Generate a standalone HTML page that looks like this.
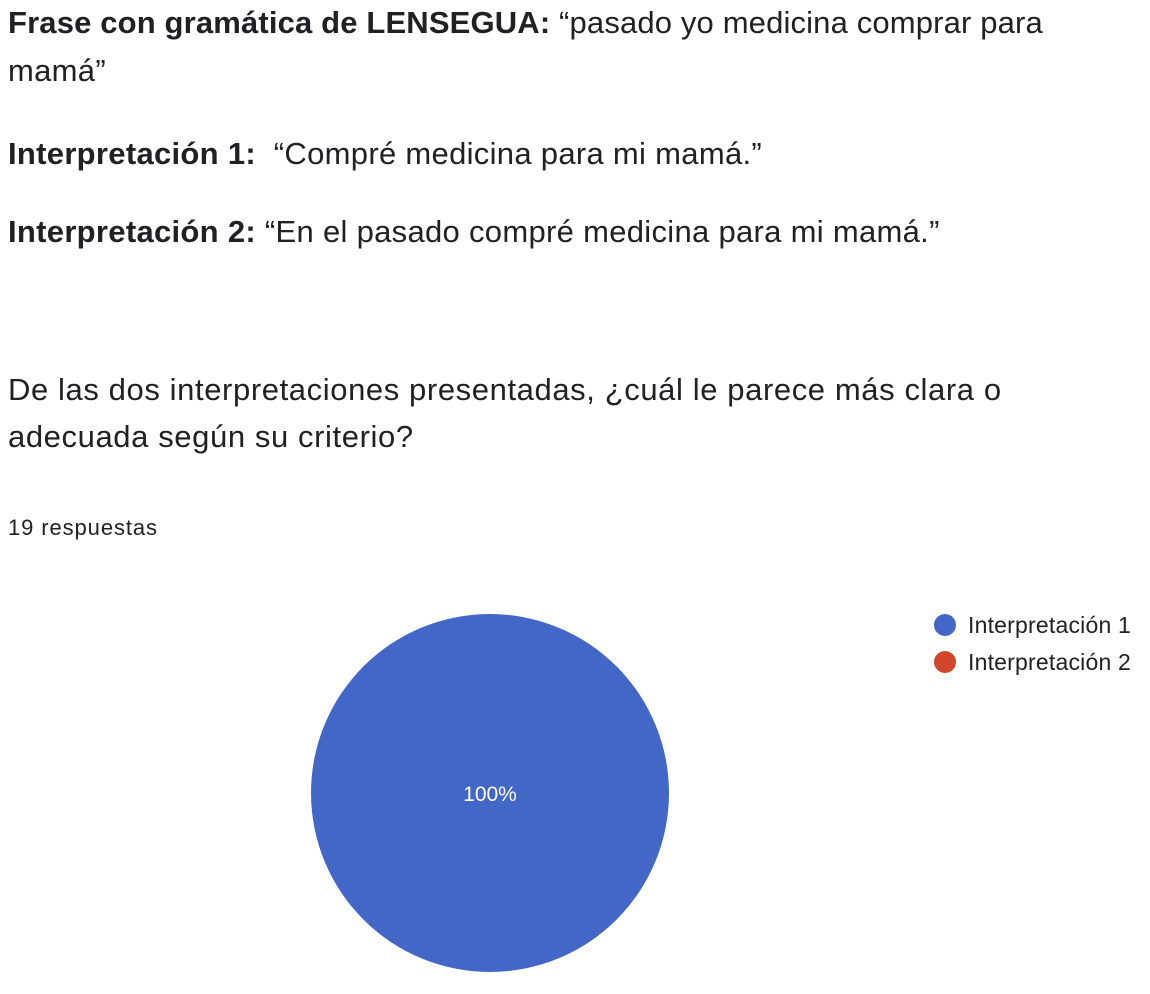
<!DOCTYPE html>
<html><head><meta charset="utf-8"><style>
body{margin:0;width:1150px;height:994px;background:#fff;font-family:"Liberation Sans",Arial,sans-serif;color:#202124;position:relative;overflow:hidden}
.t{position:absolute;left:8px;white-space:nowrap;font-size:31px;letter-spacing:0.3px}
b{font-weight:bold}
</style></head><body>
<div class="t" style="top:5px;letter-spacing:0.15px"><b>Frase con gramática de LENSEGUA:</b> “pasado yo medicina comprar para</div>
<div class="t" style="top:53px">mamá”</div>
<div class="t" style="top:136px"><b>Interpretación 1:</b>&nbsp; “Compré medicina para mi mamá.”</div>
<div class="t" style="top:214px"><b>Interpretación 2:</b> “En el pasado compré medicina para mi mamá.”</div>
<div class="t" style="top:372px;letter-spacing:0.6px">De las dos interpretaciones presentadas, ¿cuál le parece más clara o</div>
<div class="t" style="top:419px;letter-spacing:0.6px">adecuada según su criterio?</div>
<div class="t" style="top:515px;font-size:22px;letter-spacing:0.9px">19 respuestas</div>
<svg id="chart" width="1150" height="994" style="position:absolute;left:0;top:0"></svg>
<script>
const categories=["Interpretación 1","Interpretación 2"];
const values=[19,0];
const colors=["#4267c7","#d1452a"];
const svg=document.getElementById('chart');
const NS="http://www.w3.org/2000/svg";
const cx=490,cy=793,r=179;
const total=values.reduce((a,b)=>a+b,0);
let ang=-Math.PI/2;
values.forEach((v,i)=>{
  if(v<=0)return;
  const frac=v/total;
  let el;
  if(frac>=0.9999){
    el=document.createElementNS(NS,'circle');
    el.setAttribute('cx',cx);el.setAttribute('cy',cy);el.setAttribute('r',r);
  }else{
    const a2=ang+frac*2*Math.PI;
    el=document.createElementNS(NS,'path');
    const x1=cx+r*Math.cos(ang),y1=cy+r*Math.sin(ang),x2=cx+r*Math.cos(a2),y2=cy+r*Math.sin(a2);
    el.setAttribute('d',`M${cx},${cy}L${x1},${y1}A${r},${r} 0 ${frac>0.5?1:0} 1 ${x2},${y2}Z`);
  }
  el.setAttribute('fill',colors[i]);
  
  
  svg.appendChild(el);
  const mid=ang+frac*Math.PI;
  const lr=frac>=0.9999?0:r*0.6;
  const t=document.createElementNS(NS,'text');
  t.setAttribute('x',cx+lr*Math.cos(mid));t.setAttribute('y',cy+lr*Math.sin(mid)+8);
  t.setAttribute('text-anchor','middle');t.setAttribute('fill','#fff');
  t.setAttribute('font-size','21');t.setAttribute('font-family','Liberation Sans, sans-serif');
  t.textContent=Math.round(frac*100)+'%';
  
  
  svg.appendChild(t);
  ang+=frac*2*Math.PI;
});
categories.forEach((c,i)=>{
  const y=625+i*37;
  const d=document.createElementNS(NS,'circle');
  d.setAttribute('cx',945);d.setAttribute('cy',y);d.setAttribute('r',11);d.setAttribute('fill',colors[i]);
  
  
  svg.appendChild(d);
  const t=document.createElementNS(NS,'text');
  t.setAttribute('x',968);t.setAttribute('y',y+8);t.setAttribute('fill','#202124');
  t.setAttribute('font-size','23');t.setAttribute('font-family','Liberation Sans, sans-serif');
  t.setAttribute('letter-spacing','0.2');
  t.textContent=c;
  
  
  svg.appendChild(t);
});
</script>
</body></html>
